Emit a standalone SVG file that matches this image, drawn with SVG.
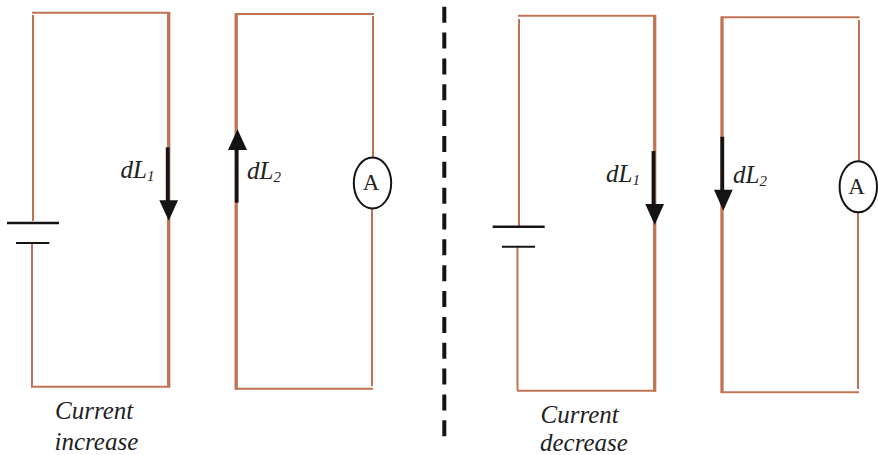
<svg xmlns="http://www.w3.org/2000/svg" width="878" height="455" viewBox="0 0 878 455">
<style>
.w{fill:none;stroke:#c07353;stroke-width:2}
.t{stroke:#c07353;stroke-width:3.300;fill:none}
.k{stroke:#141414;stroke-width:3.800;fill:none}
.h{fill:#141414}
.b{stroke:#141414}
text{font-family:"Liberation Serif","Times New Roman",serif;fill:#222}
.i{font-style:italic;font-size:25px}
.c{font-style:italic;font-size:25px}
.s{font-size:15px}
.a{font-size:23px;text-anchor:middle}
</style>
<rect width="878" height="455" fill="#fff"/>
<g id="connectors">
<path class="w" d="M33 221V15"/><path class="w" d="M32 12.700H170"/><path class="w" d="M32 243V386.700"/><path class="w" d="M31 386.700H170"/>
<path class="t" d="M168.700 12V387.500"/>
<path class="t" d="M236.200 13V389.500"/>
<path class="w" d="M235 14H374"/><path class="w" d="M373 16V157"/><path class="w" d="M372 209V386"/><path class="w" d="M235 388.700H373"/>
<path class="w" d="M519 226V19"/><path class="w" d="M518 15.700H656"/><path class="w" d="M517.500 247V390"/><path class="w" d="M517 390.700H656"/>
<path class="t" d="M654.700 15V391.500"/>
<path class="t" d="M722 16.500V393"/>
<path class="w" d="M721 17.300H859.500"/><path class="w" d="M859 20V161"/><path class="w" d="M858 213V389"/><path class="w" d="M721 392.300H859"/>
<path d="M444.300 6.700V437.300" stroke="#141414" stroke-width="4" stroke-dasharray="16 9.850" fill="none"/>
</g>
<g id="battery-left"><path class="b" stroke-width="2.500" d="M7 223H59"/><path class="b" stroke-width="2" d="M16 243H49.300"/></g>
<g id="battery-right"><path class="b" stroke-width="2.500" d="M492.700 226.700H544.700"/><path class="b" stroke-width="2" d="M502 246.700H535"/></g>
<g id="arrow-dL1-left"><path class="k" d="M167.700 147.300V205"/><path class="h" d="M159.300 200.300H178L168.700 220.700Z"/></g>
<g id="arrow-dL2-left"><path class="k" d="M236.700 202.700V145"/><path class="h" d="M228 150H247L237.500 129.300Z"/></g>
<g id="arrow-dL1-right"><path class="k" d="M653.500 151V209"/><path class="h" d="M645.300 204H664L654.700 225Z"/></g>
<g id="arrow-dL2-right"><path class="k" d="M722.300 136.700V195"/><path class="h" d="M714 189.700H732.700L723.300 210.700Z"/></g>
<g id="ammeter-left"><ellipse cx="372.500" cy="183" rx="18.700" ry="25.500" fill="#fff" stroke="#141414" stroke-width="2"/><text class="a" x="371" y="190">A</text></g>
<g id="ammeter-right"><ellipse cx="858.300" cy="186.800" rx="18.700" ry="25.500" fill="#fff" stroke="#141414" stroke-width="2"/><text class="a" x="856.500" y="194">A</text></g>
<g id="labels">
<text class="i" x="120.500" y="178">dL<tspan class="s" dy="3">1</tspan></text>
<text class="i" x="247" y="179.300">dL<tspan class="s" dy="3">2</tspan></text>
<text class="i" x="606" y="182.300">dL<tspan class="s" dy="3">1</tspan></text>
<text class="i" x="733" y="183.300">dL<tspan class="s" dy="3">2</tspan></text>
<text class="c" x="55" y="419">Current</text>
<text class="c" x="54.500" y="449.500">increase</text>
<text class="c" x="540.500" y="422.700">Current</text>
<text class="c" x="540" y="451">decrease</text>
</g>
</svg>
